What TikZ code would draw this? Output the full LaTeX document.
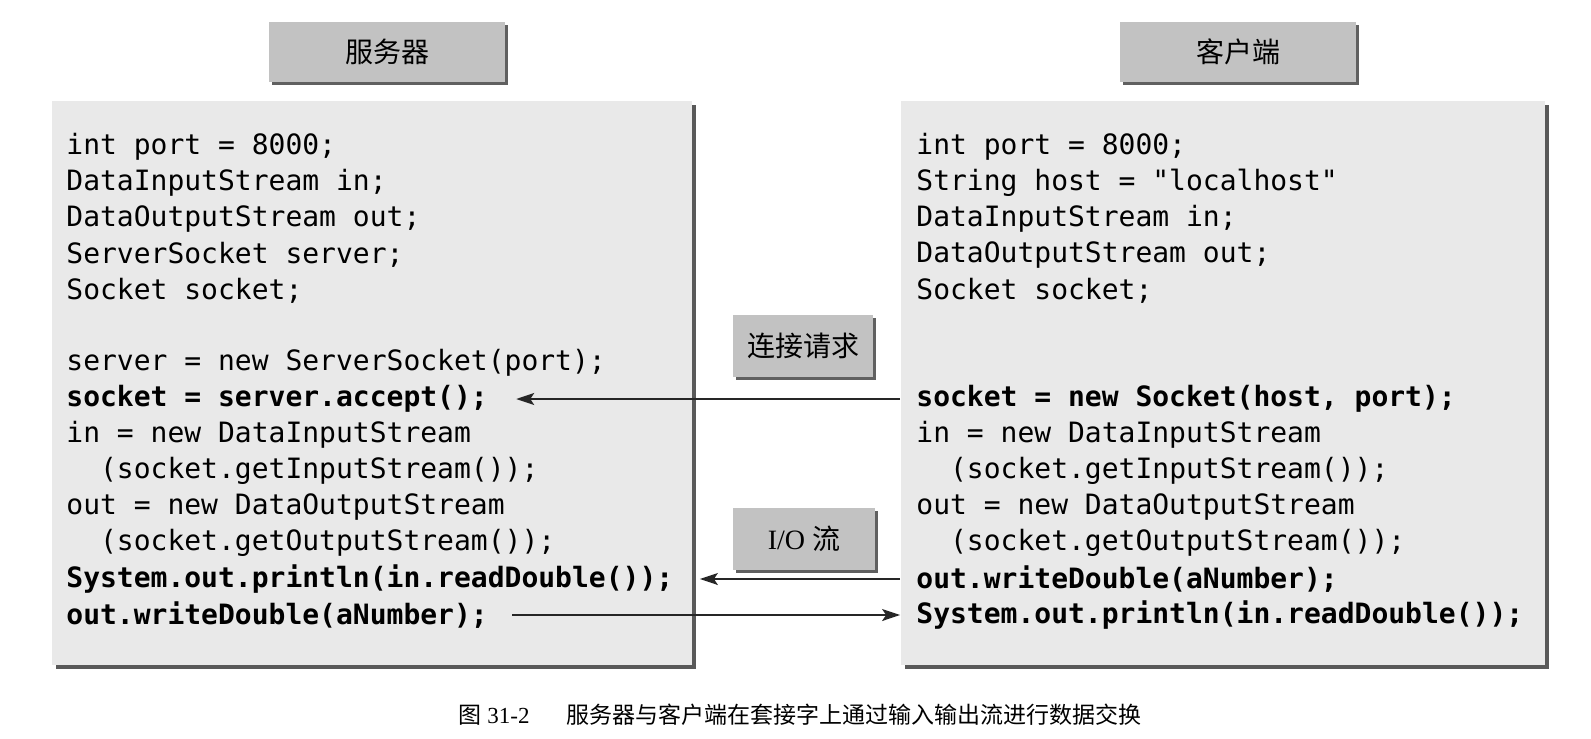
\documentclass[tikz,border=0pt]{standalone}
\usepackage{fontspec}
\setmainfont{Liberation Serif}
\setmonofont{DejaVu Sans Mono}
\newfontfamily\cjk{Noto Sans CJK SC}
\usetikzlibrary{shadows,arrows.meta}

\tikzset{
  codebox/.style={fill=gray!17, minimum width=320pt, minimum height=282pt,
    drop shadow={shadow xshift=2pt, shadow yshift=-2pt, fill=gray!70!black, opacity=1}},
  tag/.style={fill=gray!48, minimum width=118pt, minimum height=30pt, inner sep=0pt,
    font=\fontsize{14}{14}\selectfont,
    drop shadow={shadow xshift=1.5pt, shadow yshift=-1.5pt, fill=gray!75!black, opacity=1}},
  code/.style={anchor=west, inner sep=0pt, font=\ttfamily\fontsize{14}{18}\selectfont},
  link/.style={line width=0.8pt, draw=gray!30!black}
}

\begin{document}
\begin{tikzpicture}[x=0.5pt, y=-0.5pt, >={Stealth[length=9pt,width=6pt,inset=2pt]}]

\useasboundingbox (0,0) rectangle (1591,739);

\node [tag] (server-tag) at (387,52) {\cjk 服务器};
\node [tag] (client-tag) at (1238,52) {\cjk 客户端};

\node [codebox] (server) at (371.5,382.5) {};
\node [codebox, minimum width=322pt] (client) at (1222.5,382.5) {};

\foreach \n/\txt in {1/{int port = 8000;}, 2/{DataInputStream in;},
    3/{DataOutputStream out;}, 4/{ServerSocket server;}, 5/{Socket socket;},
    7/{server = new ServerSocket(port);}, 8/{\bfseries socket = server.accept();},
    9/{in = new DataInputStream}, 10/{\hphantom{xx}(socket.getInputStream());},
    11/{out = new DataOutputStream}, 12/{\hphantom{xx}(socket.getOutputStream());},
    13/{\bfseries System.out.println(in.readDouble());},
    14/{\bfseries out.writeDouble(aNumber);}}
  \node [code] (server-\n) at (66,147+36*\n-36) {\txt};

\foreach \n/\txt in {1/{int port = 8000;}, 2/{String host = "localhost"},
    3/{DataInputStream in;}, 4/{DataOutputStream out;}, 5/{Socket socket;},
    8/{\bfseries socket = new Socket(host, port);},
    9/{in = new DataInputStream}, 10/{\hphantom{xx}(socket.getInputStream());},
    11/{out = new DataOutputStream}, 12/{\hphantom{xx}(socket.getOutputStream());},
    13/{\bfseries out.writeDouble(aNumber);},
    14/{\bfseries System.out.println(in.readDouble());}}
  \node [code] (client-\n) at (916,147+36*\n-36) {\txt};

\node [tag, minimum width=70pt, minimum height=31pt] (request) at (803,346) {\cjk 连接请求};
\node [tag, minimum width=71pt, minimum height=31pt] (stream) at (804,539) {I/O {\cjk 流}};

\draw [link, ->] (client-8.west -| client.west) -- ([xshift=14pt]server-8.east);
\draw [link, ->] (client-13.west -| client.west) -- ([xshift=4pt]client-13.west -| server.east);
\draw [link, ->] ([xshift=12pt]server-14.east) -- (server-14.east -| client.west);

\node (caption) at (800,715) {\fontsize{11.5}{14}\selectfont
  {\cjk 图} 31-2\hspace{1.6em}{\cjk 服务器与客户端在套接字上通过输入输出流进行数据交换}};

\end{tikzpicture}
\end{document}
